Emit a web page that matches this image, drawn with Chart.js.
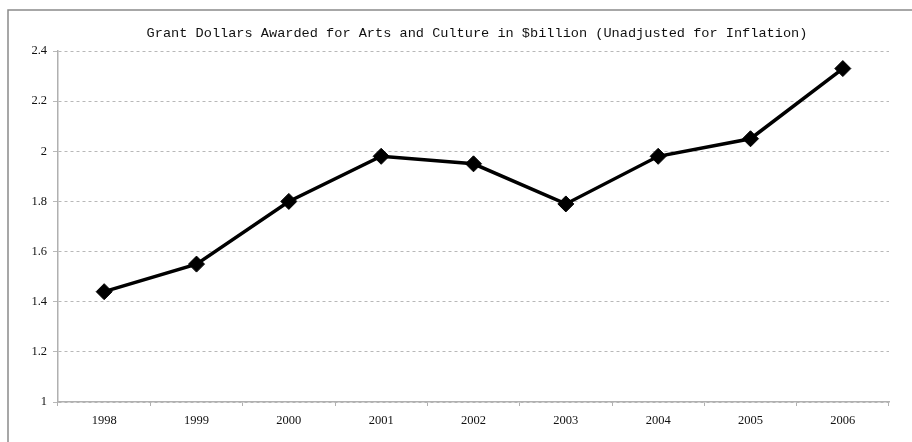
<!DOCTYPE html>
<html>
<head>
<meta charset="utf-8">
<script src="https://cdn.jsdelivr.net/npm/chart.js@4/dist/chart.umd.min.js"></script>
<style>
  html, body { margin: 0; padding: 0; background: #fff; }
  #wrap { width: 912px; height: 442px; position: relative; }
</style>
</head>
<body>
<div id="wrap"><canvas id="c" width="912" height="442"></canvas></div>
<script>
const titleText = "Grant Dollars Awarded for Arts and Culture in $billion (Unadjusted for Inflation)";
const years = ["1998", "1999", "2000", "2001", "2002", "2003", "2004", "2005", "2006"];
const grantBillions = [1.44, 1.55, 1.80, 1.98, 1.95, 1.79, 1.98, 2.05, 2.33];
const yMin = 1, yMax = 2.4, yStep = 0.2;

const framePlugin = {
  id: 'frameAndTitle',
  beforeDraw(chart) {
    const ctx = chart.ctx;
    ctx.save();
    ctx.fillStyle = '#fff';
    ctx.fillRect(0, 0, chart.width, chart.height);
    ctx.strokeStyle = '#8a8a8a';
    ctx.lineWidth = 1.5;
    ctx.strokeRect(8, 10, chart.width + 10, chart.height + 10);
    ctx.restore();
  },
  afterDraw(chart) {
    const ctx = chart.ctx;
    ctx.save();
    ctx.fillStyle = '#111';
    ctx.font = '13.6px "Liberation Mono", "DejaVu Sans Mono", monospace';
    ctx.textAlign = 'center';
    ctx.textBaseline = 'middle';
    ctx.fillText(titleText, 477, 33);
    ctx.restore();
  }
};

new Chart(document.getElementById('c'), {
  type: 'line',
  data: {
    labels: years,
    datasets: [{
      data: grantBillions,
      borderColor: '#000',
      backgroundColor: '#000',
      borderWidth: 3.5,
      pointStyle: 'rectRot',
      pointRadius: 8,
      pointBorderWidth: 1,
      pointHoverRadius: 8,
      tension: 0,
      fill: false
    }]
  },
  plugins: [framePlugin],
  options: {
    responsive: false,
    animation: false,
    layout: { padding: { left: 0, right: 23, top: 51, bottom: 0 } },
    plugins: { legend: { display: false }, title: { display: false }, tooltip: { enabled: false } },
    scales: {
      x: {
        type: 'category',
        offset: true,
        grid: { display: true, drawOnChartArea: false, offset: true, color: '#b0b0b0', tickLength: 4, tickWidth: 1 },
        border: { display: true, color: '#b0b0b0', width: 1.5 },
        ticks: { color: '#111', font: { family: '"Liberation Serif", "DejaVu Serif", serif', size: 12.5 }, padding: 7, maxRotation: 0, autoSkip: false },
        afterFit(scale) { scale.height = 40; }
      },
      y: {
        min: yMin, max: yMax,
        grid: { color: '#b8b8b8', tickLength: 5, lineWidth: 1 },
        border: { display: true, color: '#b0b0b0', width: 1.5, dash: [3, 3] },
        ticks: {
          stepSize: yStep, color: '#111', padding: 6,
          font: { family: '"Liberation Serif", "DejaVu Serif", serif', size: 12.5 },
          callback: (v) => String(Math.round(v * 10) / 10)
        },
        afterFit(scale) { scale.width = 58; }
      }
    }
  }
});
</script>
</body>
</html>
